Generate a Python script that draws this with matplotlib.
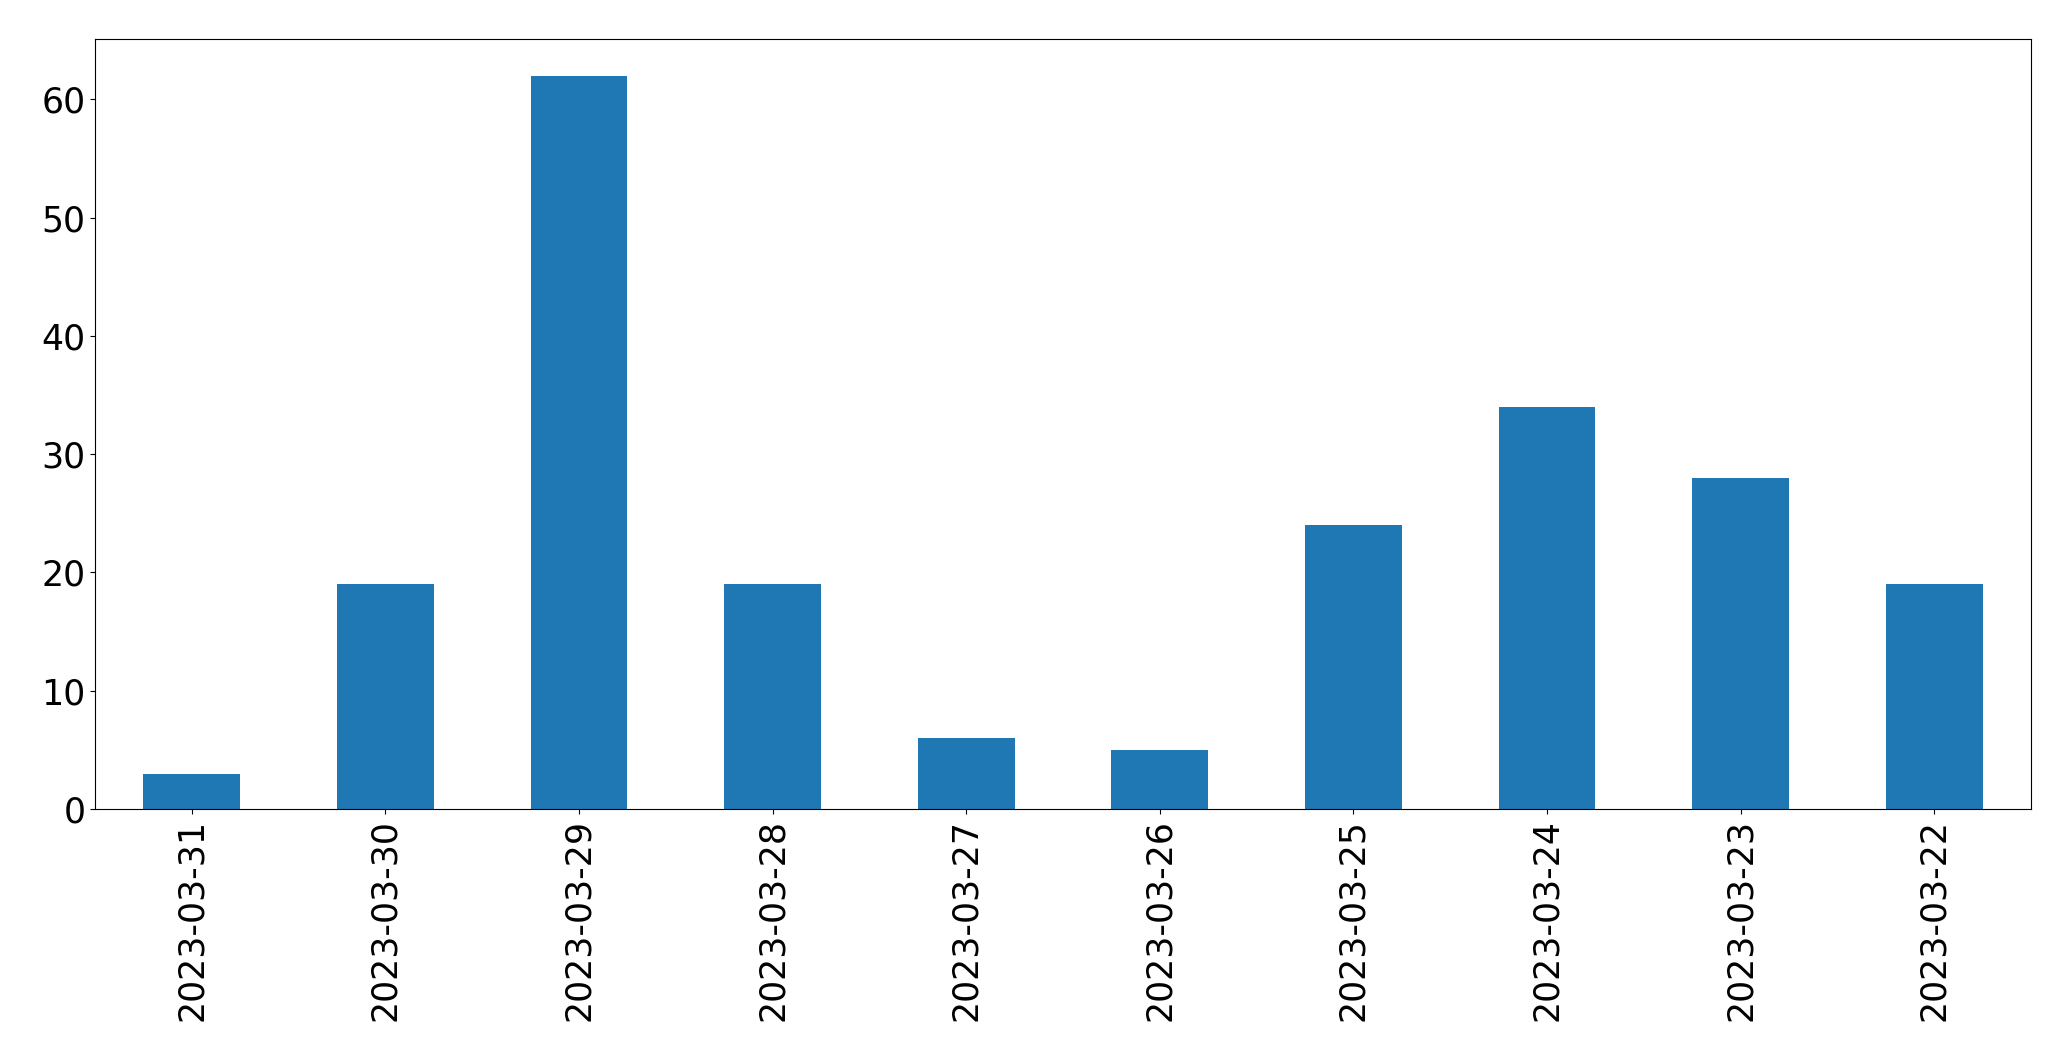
import pandas as pd
import matplotlib
matplotlib.use("Agg")
import matplotlib.pyplot as plt

dates = ["2023-03-31", "2023-03-30", "2023-03-29", "2023-03-28", "2023-03-27",
         "2023-03-26", "2023-03-25", "2023-03-24", "2023-03-23", "2023-03-22"]
counts = [3, 19, 62, 19, 6, 5, 24, 34, 28, 19]


def main():
    s = pd.Series(counts, index=dates)
    fig, ax = plt.subplots(figsize=(20.71, 10.61), dpi=100)
    s.plot(kind="bar", ax=ax, fontsize=25)
    fig.subplots_adjust(left=0.0459, right=0.9807, top=0.9632, bottom=0.2375)
    fig.savefig("out.png", dpi=100)


if __name__ == "__main__":
    main()
